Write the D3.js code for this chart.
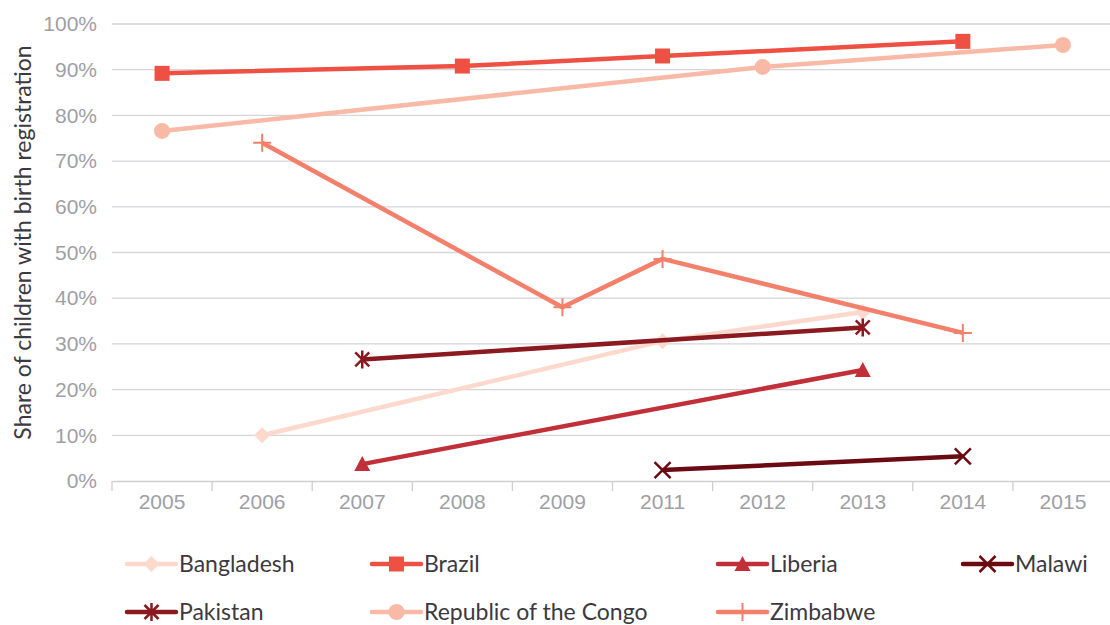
<!DOCTYPE html>
<html>
<head>
<meta charset="utf-8">
<script src="https://cdn.jsdelivr.net/npm/d3@7"></script>
<style>
  body { margin: 0; background: #fff; }
  svg { display: block; font-family: "Lato", "Open Sans", sans-serif; }
</style>
</head>
<body>
<div id="chart"></div>
<script>
/** Data */
const years = ["2005", "2006", "2007", "2008", "2009", "2011", "2012", "2013", "2014", "2015"];
const yTicks = [0, 10, 20, 30, 40, 50, 60, 70, 80, 90, 100];

const bangladesh = [["2006", 10], ["2011", 30.6], ["2013", 37]];
const brazil = [["2005", 89.2], ["2008", 90.8], ["2011", 93], ["2014", 96.2]];
const liberia = [["2007", 3.7], ["2013", 24.3]];
const malawi = [["2011", 2.4], ["2014", 5.4]];
const pakistan = [["2007", 26.6], ["2013", 33.6]];
const congo = [["2005", 76.6], ["2012", 90.6], ["2015", 95.4]];
const zimbabwe = [["2006", 74], ["2009", 38], ["2011", 48.6], ["2014", 32.4]];

const seriesNames = ["Bangladesh", "Brazil", "Liberia", "Malawi", "Pakistan", "Republic of the Congo", "Zimbabwe"];
const seriesData = [bangladesh, brazil, liberia, malawi, pakistan, congo, zimbabwe];
const seriesColors = ["#fcd8cd", "#ef5044", "#c12f39", "#6b0a12", "#8a1a1f", "#f8baa6", "#f2806a"];
const seriesMarkers = ["diamond", "square", "triangle", "x", "star", "circle", "plus"];

const w = 1110, h = 625;
const margin = {top: 24, right: -3, bottom: 144, left: 112};
const width = w - margin.left - margin.right;
const height = h - margin.top - margin.bottom;

const svg = d3.select("#chart").append("svg")
  .attr("width", w)
  .attr("height", h);

const x = d3.scaleBand().domain(years).range([0, width]);
const y = d3.scaleLinear().domain([0, 100]).range([height, 0]);

const g = svg.append("g").attr("transform", "translate(" + margin.left + "," + margin.top + ")");

// gridlines
g.selectAll("line.grid")
  .data(yTicks.filter(d => d > 0))
  .enter().append("line")
  .attr("class", "grid")
  .attr("x1", 0).attr("x2", width)
  .attr("y1", d => y(d)).attr("y2", d => y(d))
  .attr("stroke", "#d6d3d9").attr("stroke-width", 1.3);

// y axis labels
const yAxis = d3.axisLeft(y).tickValues(yTicks).tickFormat(d => d + "%").tickSize(0).tickPadding(15);
g.append("g").call(yAxis)
  .call(s => s.select(".domain").remove())
  .selectAll("text")
  .attr("fill", "#a09ea4").style("font-size", "21px");

// x axis
const xAxis = d3.axisBottom(x).tickSize(0).tickPadding(13);
const xg = g.append("g").attr("transform", "translate(0," + height + ")").call(xAxis);
xg.select(".domain").attr("stroke", "#d0cdd3").attr("stroke-width", 1.3);
xg.selectAll("text").attr("fill", "#a09ea4").style("font-size", "21px");
xg.selectAll("line.bt")
  .data(years)
  .enter().append("line")
  .attr("class", "bt")
  .attr("x1", d => x(d)).attr("x2", d => x(d))
  .attr("y1", 0).attr("y2", 10)
  .attr("stroke", "#d0cdd3").attr("stroke-width", 1.3);

// y title
svg.append("text")
  .attr("transform", "translate(31," + (margin.top + height / 2 - 10) + ") rotate(-90)")
  .attr("text-anchor", "middle")
  .attr("fill", "#3d3940")
  .style("font-size", "23px")
  .text("Share of children with birth registration");

/** Marker drawing */
function drawMarker(sel, type, color) {
  if (type === "diamond") {
    sel.append("path").attr("d", "M0,-8L8,0L0,8L-8,0Z").attr("fill", color);
  } else if (type === "square") {
    sel.append("rect").attr("x", -7.5).attr("y", -7.5).attr("width", 15).attr("height", 15).attr("fill", color);
  } else if (type === "triangle") {
    sel.append("path").attr("d", "M0,-8L8,7L-8,7Z").attr("fill", color);
  } else if (type === "circle") {
    sel.append("circle").attr("r", 8).attr("fill", color);
  } else if (type === "x") {
    sel.append("path").attr("d", "M-8,-8L8,8M8,-8L-8,8").attr("stroke", color).attr("stroke-width", 2.5);
  } else if (type === "star") {
    sel.append("path").attr("d", "M-7,-7L7,7M7,-7L-7,7M0,-9L0,9").attr("stroke", color).attr("stroke-width", 2.5);
  } else if (type === "plus") {
    sel.append("path").attr("d", "M-9,0L9,0M0,-9L0,9").attr("stroke", color).attr("stroke-width", 2);
  }
}

const line = d3.line()
  .x(d => x(d[0]) + x.bandwidth() / 2)
  .y(d => y(d[1]));

seriesData.forEach((data, i) => {
  const sg = g.append("g");
  sg.append("path")
    .datum(data)
    .attr("d", line)
    .attr("fill", "none")
    .attr("stroke", seriesColors[i])
    .attr("stroke-width", 4.5)
    .attr("stroke-linejoin", "round");
  sg.selectAll("g.pt")
    .data(data)
    .enter().append("g")
    .attr("class", "pt")
    .attr("transform", d => "translate(" + (x(d[0]) + x.bandwidth() / 2) + "," + y(d[1]) + ")")
    .each(function() { drawMarker(d3.select(this), seriesMarkers[i], seriesColors[i]); });
});

/** Legend */
const legendCols = [0, 245, 591, 836];
const legend = svg.append("g").attr("transform", "translate(127,564)");
seriesNames.forEach((name, i) => {
  const col = i % 4, row = Math.floor(i / 4);
  const lg = legend.append("g").attr("transform", "translate(" + legendCols[col] + "," + (row * 48) + ")");
  lg.append("line").attr("x1", 0).attr("x2", 49).attr("y1", 0).attr("y2", 0)
    .attr("stroke", seriesColors[i]).attr("stroke-width", 4.5).attr("stroke-linecap", "round");
  const mg = lg.append("g").attr("transform", "translate(24.5,0)");
  drawMarker(mg, seriesMarkers[i], seriesColors[i]);
  lg.append("text").attr("x", 52).attr("y", 8)
    .attr("fill", "#3d3940").style("font-size", "23px")
    .text(name);
});
</script>
</body>
</html>
